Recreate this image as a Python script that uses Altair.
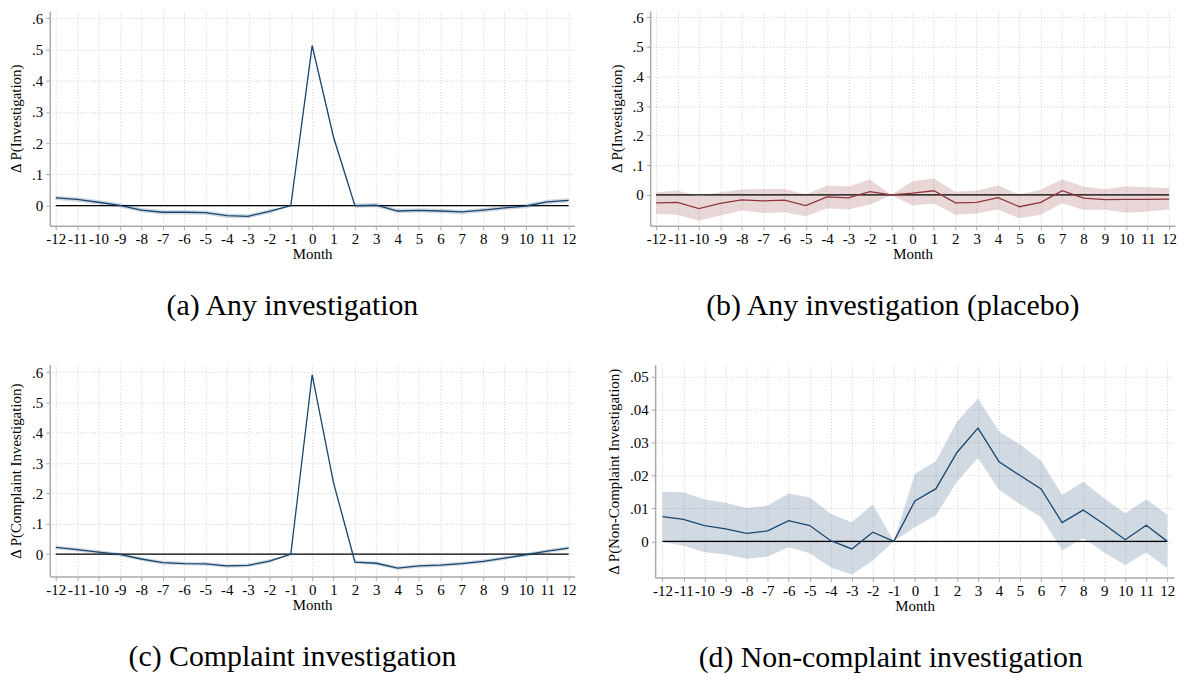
import altair as alt
import pandas as pd

months = list(range(-12, 13))

# (a) Any investigation
a_est = [0.025, 0.020, 0.011, 0.001, -0.014, -0.021, -0.021, -0.022, -0.032, -0.034, -0.018, 0.0,
         0.512, 0.219, 0.0, 0.002, -0.017, -0.015, -0.017, -0.020, -0.014, -0.007, -0.001, 0.012, 0.017]
a_hi = [0.032, 0.027, 0.018, 0.008, -0.007, -0.014, -0.014, -0.015, -0.025, -0.027, -0.011, 0.0,
        0.520, 0.227, 0.007, 0.009, -0.010, -0.008, -0.010, -0.013, -0.007, 0.000, 0.006, 0.019, 0.024]
a_lo = [0.018, 0.013, 0.004, -0.006, -0.021, -0.028, -0.028, -0.029, -0.039, -0.041, -0.025, 0.0,
        0.504, 0.211, -0.007, -0.005, -0.024, -0.022, -0.024, -0.027, -0.021, -0.014, -0.008, 0.005, 0.010]

# (b) Any investigation (placebo)
b_est = [-0.027, -0.025, -0.046, -0.029, -0.017, -0.020, -0.018, -0.036, -0.007, -0.010, 0.011, 0.0,
         0.006, 0.014, -0.027, -0.025, -0.009, -0.040, -0.025, 0.014, -0.011, -0.016, -0.015, -0.015, -0.014]
b_hi = [0.009, 0.015, -0.005, 0.009, 0.018, 0.020, 0.020, 0.001, 0.032, 0.028, 0.052, 0.0,
        0.046, 0.055, 0.011, 0.015, 0.032, 0.001, 0.017, 0.053, 0.028, 0.019, 0.029, 0.026, 0.023]
b_lo = [-0.064, -0.067, -0.087, -0.070, -0.053, -0.061, -0.059, -0.072, -0.045, -0.049, -0.033, 0.0,
        -0.036, -0.029, -0.067, -0.063, -0.049, -0.079, -0.067, -0.028, -0.051, -0.050, -0.060, -0.056, -0.049]

# (c) Complaint investigation
c_est = [0.022, 0.015, 0.007, -0.001, -0.016, -0.028, -0.031, -0.032, -0.039, -0.037, -0.023, 0.0,
         0.591, 0.235, -0.026, -0.030, -0.046, -0.039, -0.036, -0.031, -0.024, -0.013, -0.002, 0.010, 0.020]
c_hi = [0.028, 0.021, 0.013, 0.005, -0.010, -0.022, -0.025, -0.026, -0.033, -0.031, -0.017, 0.0,
        0.597, 0.241, -0.020, -0.024, -0.040, -0.033, -0.030, -0.025, -0.018, -0.007, 0.004, 0.016, 0.026]
c_lo = [0.016, 0.009, 0.001, -0.007, -0.022, -0.034, -0.037, -0.038, -0.045, -0.043, -0.029, 0.0,
        0.585, 0.229, -0.032, -0.036, -0.052, -0.045, -0.042, -0.037, -0.030, -0.019, -0.008, 0.004, 0.014]

# (d) Non-complaint investigation
d_est = [0.0075, 0.0067, 0.0048, 0.0038, 0.0024, 0.0032, 0.0063, 0.0048, 0.0002, -0.0023, 0.0028, 0.0,
         0.0123, 0.0160, 0.0270, 0.0344, 0.0242, 0.0200, 0.0159, 0.0057, 0.0095, 0.0052, 0.0005, 0.0049, 0.0000]
d_hi = [0.0151, 0.0149, 0.0127, 0.0117, 0.0101, 0.0109, 0.0145, 0.0133, 0.0084, 0.0058, 0.0112, 0.0,
        0.0205, 0.0243, 0.0363, 0.0434, 0.0334, 0.0294, 0.0245, 0.0141, 0.0181, 0.0131, 0.0085, 0.0128, 0.0081]
d_lo = [-0.0002, -0.0013, -0.0033, -0.0040, -0.0053, -0.0046, -0.0018, -0.0036, -0.0079, -0.0101, -0.0058, 0.0,
        0.0043, 0.0079, 0.0181, 0.0253, 0.0157, 0.0113, 0.0074, -0.0028, 0.0010, -0.0034, -0.0072, -0.0034, -0.0082]

y_ticks_main = [0, 0.1, 0.2, 0.3, 0.4, 0.5, 0.6]
y_ticks_d = [0, 0.01, 0.02, 0.03, 0.04, 0.05]

NAVY = "#1a476f"
MAROON = "#90353b"
FONT = "Liberation Serif"
AXIS_GRAY = "#a9a9a9"


def panel(est, lo, hi, color, ydomain, yticks, ydec, ytitle, title, width, height, xdomain):
    df = pd.DataFrame({"month": months, "est": est, "lo": lo, "hi": hi})
    zero_df = pd.DataFrame({"month": [months[0]], "x2": [months[-1]], "est": [0]})
    xscale = alt.Scale(domain=xdomain, nice=False, zero=False)
    yscale = alt.Scale(domain=ydomain, nice=False, zero=False)
    label_expr = ("datum.value == 0 ? '0' : replace(format(datum.value, '.%df'), '0.', '.')" % ydec)
    xaxis = alt.Axis(values=months, title="Month", labelExpr="'' + datum.value", grid=True,
                     labelPadding=2, titlePadding=0, labelFlush=False)
    yaxis = alt.Axis(values=yticks, title=ytitle, labelExpr=label_expr, grid=True,
                     labelPadding=3, titlePadding=8)
    X = alt.X("month:Q", scale=xscale, axis=xaxis, title="Month")
    band = alt.Chart(df).mark_area(color=color, opacity=0.2).encode(
        x=X,
        y=alt.Y("lo:Q", scale=yscale, axis=yaxis, title=ytitle),
        y2="hi:Q",
    )
    zero = alt.Chart(zero_df).mark_rule(color="black", strokeWidth=1.2).encode(
        x=X, x2="x2:Q", y=alt.Y("est:Q", scale=yscale, axis=yaxis, title=ytitle)
    )
    line = alt.Chart(df).mark_line(color=color, strokeWidth=1.3).encode(
        x=X, y=alt.Y("est:Q", scale=yscale, axis=yaxis, title=ytitle)
    )
    return alt.layer(band, zero, line).properties(
        width=width, height=height,
        title=alt.TitleParams(title, orient="bottom", anchor="middle", frame="bounds",
                              font=FONT, fontSize=30, fontWeight="normal", offset=30, color="black"),
    )


pa = panel(a_est, a_lo, a_hi, NAVY, [-0.064, 0.623], y_ticks_main, 1,
           "\u0394 P(Investigation)", "(a) Any investigation", 528, 216, [-12.28, 12.28])
pb = panel(b_est, b_lo, b_hi, MAROON, [-0.104, 0.621], y_ticks_main, 1,
           "\u0394 P(Investigation)", "(b) Any investigation (placebo)", 528, 216, [-12.28, 12.28])
pc = panel(c_est, c_lo, c_hi, NAVY, [-0.074, 0.624], y_ticks_main, 1,
           "\u0394 P(Complaint Investigation)", "(c) Complaint investigation", 528, 213, [-12.28, 12.28])
pd_ = panel(d_est, d_lo, d_hi, NAVY, [-0.011, 0.0536], y_ticks_d, 2,
            "\u0394 P(Non-Complaint Investigation)", "(d) Non-complaint investigation", 522, 214, [-12.35, 12.32])

row1 = alt.hconcat(pa, pb, spacing=32)
row2 = alt.hconcat(pc, pd_, spacing=30)
chart = alt.vconcat(row1, row2, spacing=44).properties(padding=0).configure_view(
    stroke=None
).configure_axis(
    domainColor=AXIS_GRAY, domainWidth=1.5, tickColor=AXIS_GRAY, tickSize=4, tickWidth=1,
    gridColor="#cfcfcf", gridDash=[1, 2], gridWidth=1,
    labelFont=FONT, labelFontSize=15, labelColor="black",
    titleFont=FONT, titleFontSize=15, titleFontWeight="normal", titleColor="black",
)

chart.save("out.html", embed_options={"renderer": "svg", "actions": False})
